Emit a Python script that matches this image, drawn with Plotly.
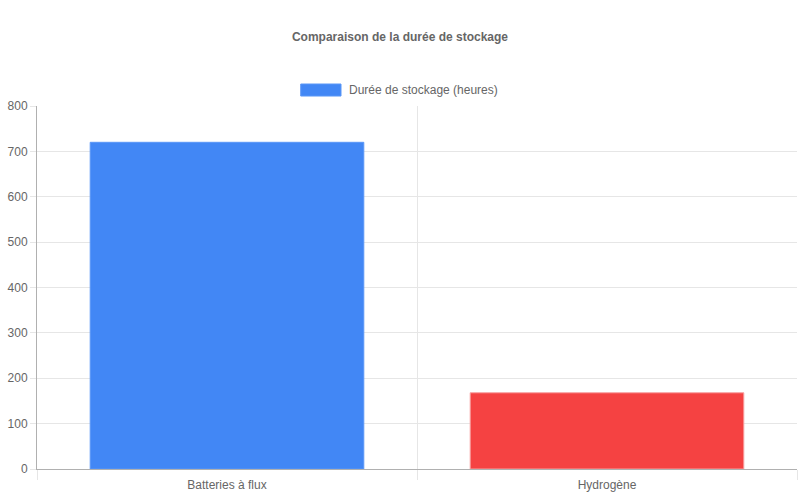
import plotly.graph_objects as go

categories = ["Batteries à flux", "Hydrogène"]
durations = [720, 168]
bar_colors = ["#4287f5", "#f54242"]
series_name = "Durée de stockage (heures)"

fig = go.Figure()
fig.add_trace(go.Bar(
    x=categories,
    y=durations,
    name=series_name,
    marker=dict(color=bar_colors, line=dict(color=["#5a97f7", "#f7a0a0"], width=1)),
    showlegend=False,
))

# legend drawn by hand (wide swatch like the original)
fig.add_shape(type="rect", xref="paper", yref="paper",
              x0=0.347, x1=0.4, y0=1.0275, y1=1.0606,
              fillcolor=bar_colors[0], line=dict(color="#5a97f7", width=1))
fig.add_annotation(xref="paper", yref="paper", x=0.408, y=1.044,
                   text=series_name, showarrow=False, xanchor="left", yanchor="middle",
                   font=dict(size=12, color="#666666"))

grid = "#e6e6e6"
fig.update_layout(
    width=800, height=500,
    margin=dict(l=37, r=3, t=106, b=31),
    paper_bgcolor="white", plot_bgcolor="white",
    font=dict(family="Liberation Sans, Arial, sans-serif", size=12, color="#666666"),
    title=dict(text="<b>Comparaison de la durée de stockage</b>", x=0.5, xanchor="center",
               y=1 - 37 / 500, yanchor="middle", font=dict(size=12, color="#666666")),
    bargap=0.28,
    xaxis=dict(
        tickson="boundaries", showgrid=True, gridcolor=grid,
        ticks="outside", ticklen=10, tickcolor=grid, ticklabelstandoff=5,
        showline=True, linecolor="#b0b0b0", range=[-0.5, 1.5],
        automargin=False,
    ),
    yaxis=dict(
        range=[0, 800], dtick=100, showgrid=True, gridcolor=grid,
        ticks="outside", ticklen=6, tickcolor=grid,
        showline=True, linecolor="#b0b0b0", zeroline=False,
        automargin=False,
    ),
)

# page has a default 8px body margin; remove it so the figure sits at 0,0
fig.write_html("out.html", config={"displayModeBar": False},
               post_script="document.body.style.margin='0';")
